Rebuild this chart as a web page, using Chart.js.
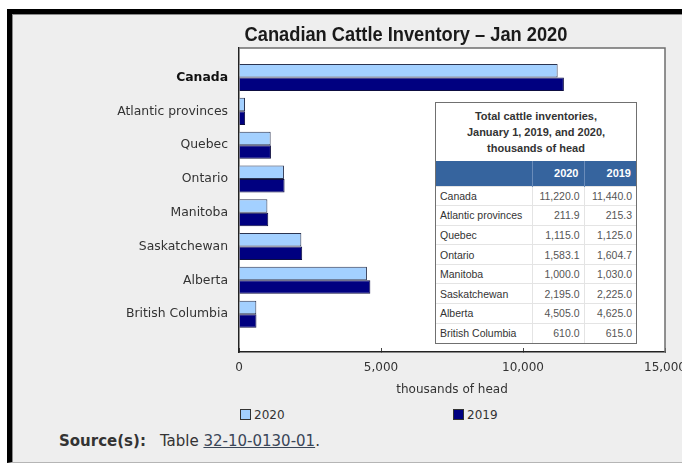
<!DOCTYPE html>
<html><head><meta charset="utf-8">
<script src="https://cdn.jsdelivr.net/npm/chart.js@4/dist/chart.umd.min.js"></script>
<style>
html,body{margin:0;padding:0;}
body{width:682px;height:464px;overflow:hidden;background:#fff;position:relative;font-family:'DejaVu Sans',sans-serif;}
#frame{position:absolute;left:7px;top:9px;width:720px;height:454px;box-sizing:border-box;border-left:5px solid #000;border-top:5px solid #000;border-bottom:1px solid #b5b5b5;background:#eeeeee;}
#inner{position:absolute;left:0;top:0;right:0;bottom:0;border-left:1px solid #8a8a8a;border-top:1px solid #8a8a8a;}
#chartBox{position:absolute;left:14px;top:15px;width:720px;height:385px;}
#title{position:absolute;left:156px;top:22px;width:500px;text-align:center;font-family:'Liberation Sans',Arial,sans-serif;font-weight:bold;font-size:21px;line-height:24px;color:#1a1a1a;transform:scaleX(0.87);transform-origin:50% 50%;white-space:nowrap;}
#tbl{position:absolute;left:435px;top:102px;width:202px;height:242px;box-sizing:border-box;border:1px solid #707070;background:#fff;font-family:'Liberation Sans',Arial,sans-serif;overflow:hidden;}
#tbl .cap{height:58px;display:flex;align-items:center;justify-content:center;text-align:center;font-weight:bold;font-size:11px;line-height:16px;color:#333;}
#tbl table{border-collapse:collapse;width:200px;table-layout:fixed;}
#tbl th{background:#36649e;color:#fff;height:25px;font-size:11px;text-align:right;padding:0 5px;border-left:1px solid #6a8cba;box-sizing:border-box;}
#tbl th:first-child{border-left:none;}
#tbl td{height:19.6px;font-size:10.5px;color:#333;border-top:1px solid #e4e4e4;padding:0 4px;white-space:nowrap;box-sizing:border-box;}
#tbl td.n{text-align:right;color:#555;border-left:1px solid #e4e4e4;}
.lg{position:absolute;top:408px;font-size:12px;color:#333;line-height:14px;}
.lg span.b{display:inline-block;width:11px;height:11px;box-sizing:border-box;border:1px solid #333;vertical-align:-1px;margin-right:3px;}
#src{position:absolute;left:59px;top:432px;font-size:15px;color:#333;white-space:nowrap;}
#src b{margin-right:14px;}
#src a{color:#3a4658;text-decoration:underline;}
</style>
</head><body>
<div id="frame"><div id="inner"></div></div>
<div id="chartBox"><canvas id="c" width="720" height="385"></canvas></div>
<div id="title"></div>
<div id="tbl"></div>
<div id="legend"></div>
<div id="src"><b>Source(s):</b>Table <a>32-10-0130-01</a>.</div>
<script>
const categories = ['Canada','Atlantic provinces','Quebec','Ontario','Manitoba','Saskatchewan','Alberta','British Columbia'];
const values2020 = [11220.0, 211.9, 1115.0, 1583.1, 1000.0, 2195.0, 4505.0, 610.0];
const values2019 = [11440.0, 215.3, 1125.0, 1604.7, 1030.0, 2225.0, 4625.0, 615.0];
const seriesLabels = ['2020', '2019'];
const seriesColors = ['#a3d0ff', '#000080'];
const xTickValues = [0, 5000, 10000, 15000];
const chartTitle = 'Canadian Cattle Inventory \u2013 Jan 2020';
const xAxisTitle = 'thousands of head';
const tableTitle = ['Total cattle inventories,', 'January 1, 2019, and 2020,', 'thousands of head'];

const toPoints = arr => arr.map((v, i) => ({x: v, y: i}));
const fmt = v => v.toLocaleString('en-US', {minimumFractionDigits: 1, maximumFractionDigits: 1});

document.getElementById('title').textContent = chartTitle;

const plotFrame = {
  id: 'plotFrame',
  beforeDraw(chart) {
    const {ctx, chartArea: a} = chart;
    ctx.save();
    ctx.fillStyle = '#ffffff';
    ctx.fillRect(a.left, a.top, a.right - a.left, a.bottom - a.top);
    ctx.restore();
  },
  afterDraw(chart) {
    const {ctx, chartArea: a} = chart;
    ctx.save();
    ctx.strokeStyle = '#6e6e6e';
    ctx.lineWidth = 1.5;
    ctx.beginPath();
    ctx.moveTo(a.left, a.top);
    ctx.lineTo(a.right, a.top);
    ctx.lineTo(a.right, a.bottom);
    ctx.stroke();
    ctx.restore();
  }
};

const chart = new Chart(document.getElementById('c'), {
  type: 'bar',
  data: {
    datasets: [
      {label: seriesLabels[0], data: toPoints(values2020), backgroundColor: seriesColors[0], borderColor: '#2b3450', borderWidth: 1},
      {label: seriesLabels[1], data: toPoints(values2019), backgroundColor: seriesColors[1], borderColor: '#0d0d40', borderWidth: 1}
    ]
  },
  options: {
    indexAxis: 'y',
    responsive: false,
    animation: false,
    events: [],
    categoryPercentage: 0.8,
    barPercentage: 1.0,
    layout: {padding: {left: 0, right: 69, top: 33, bottom: 0}},
    plugins: {
      legend: {display: false},
      tooltip: {enabled: false},
      title: {display: false}
    },
    scales: {
      x: {
        type: 'linear', position: 'bottom', min: 0, max: 15000,
        afterBuildTicks: s => { s.ticks = xTickValues.map(v => ({value: v})); },
        afterFit: s => { s.height = 48; },
        ticks: {
          callback: v => v.toLocaleString('en-US'),
          color: '#333', padding: 13, maxRotation: 0,
          font: {family: "'DejaVu Sans',sans-serif", size: 12}
        },
        grid: {drawOnChartArea: false, drawTicks: true, tickLength: -4, color: '#444', tickWidth: 1},
        border: {display: true, color: '#222', width: 1.5},
        title: {display: true, text: xAxisTitle, color: '#333', font: {family: "'DejaVu Sans',sans-serif", size: 12}, padding: {top: 4, bottom: 3}}
      },
      y: {
        type: 'linear', position: 'left', reverse: true, offset: false, min: -0.875, max: 8.12,
        afterBuildTicks: s => { s.ticks = categories.map((c, i) => ({value: i})); },
        afterFit: s => { s.width = 225; },
        ticks: {
          autoSkip: false, padding: 11,
          callback: v => categories[v] ?? '',
          color: ctx => ctx.index === 0 ? '#111' : '#333',
          font: ctx => ({family: "'DejaVu Sans',sans-serif", size: 12.4, weight: ctx.index === 0 ? 'bold' : 'normal'})
        },
        grid: {drawOnChartArea: false, drawTicks: false, offset: false},
        border: {display: true, color: '#222', width: 1.5}
      }
    }
  },
  plugins: [plotFrame]
});

// legend from chart datasets
const legendEl = document.getElementById('legend');
const legendX = [240, 453];
chart.data.datasets.forEach((ds, i) => {
  const d = document.createElement('div');
  d.className = 'lg';
  d.style.left = legendX[i] + 'px';
  d.innerHTML = '<span class="b" style="background:' + ds.backgroundColor + '"></span>' + ds.label;
  legendEl.appendChild(d);
});

// data table
let html = '<div class="cap"><div>' + tableTitle.join('<br>') + '</div></div>';
html += '<table><colgroup><col style="width:96px"><col style="width:52px"><col style="width:52px"></colgroup>';
html += '<tr><th></th><th>' + seriesLabels[0] + '</th><th>' + seriesLabels[1] + '</th></tr>';
categories.forEach((c, i) => {
  html += '<tr><td>' + c + '</td><td class="n">' + fmt(values2020[i]) + '</td><td class="n">' + fmt(values2019[i]) + '</td></tr>';
});
html += '</table>';
document.getElementById('tbl').innerHTML = html;
</script>
</body></html>
